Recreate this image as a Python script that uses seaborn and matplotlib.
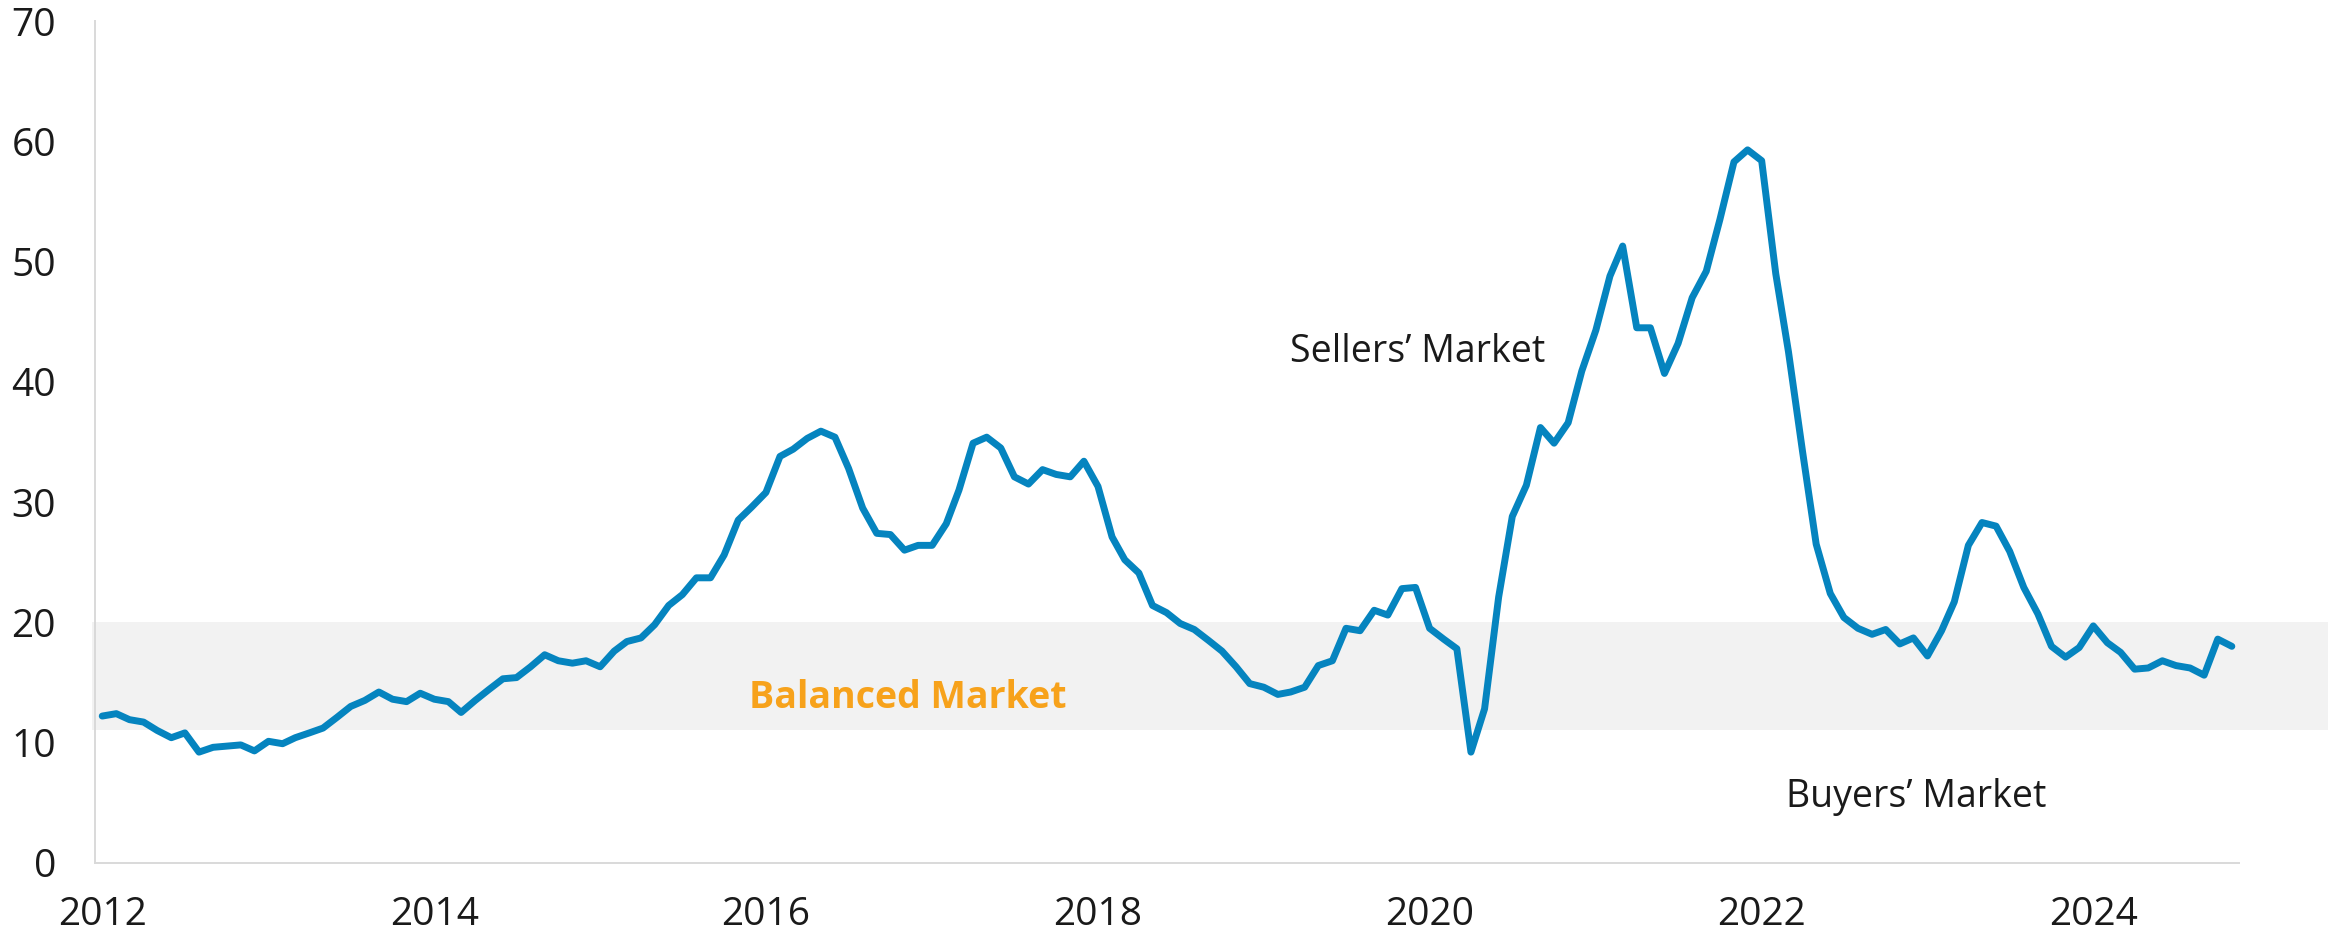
import numpy as np
import pandas as pd
import matplotlib
matplotlib.use("Agg")
import matplotlib.pyplot as plt
import matplotlib.transforms as mtransforms
from matplotlib.patches import Rectangle
import seaborn as sns

# monthly values, Jan 2012 - Nov 2024
values = [
    12.2, 12.4, 11.9, 11.7, 11.0, 10.4, 10.8, 9.2, 9.6, 9.7, 9.8, 9.3,
    10.1, 9.9, 10.4, 10.8, 11.2, 12.1, 13.0, 13.5, 14.2, 13.6, 13.4, 14.1,
    13.6, 13.4, 12.5, 13.5, 14.4, 15.3, 15.4, 16.3, 17.3, 16.8, 16.6, 16.8,
    16.3, 17.6, 18.4, 18.7, 19.8, 21.4, 22.3, 23.7, 23.7, 25.6, 28.5, 29.6,
    30.8, 33.8, 34.4, 35.3, 35.9, 35.4, 32.8, 29.5, 27.4, 27.3, 26.0, 26.4,
    26.4, 28.2, 31.0, 34.9, 35.4, 34.5, 32.1, 31.5, 32.7, 32.3, 32.1, 33.4,
    31.3, 27.1, 25.2, 24.1, 21.4, 20.8, 19.9, 19.4, 18.5, 17.6, 16.3, 14.9,
    14.6, 14.0, 14.2, 14.6, 16.4, 16.8, 19.5, 19.3, 21.0, 20.6, 22.8, 22.9,
    19.5, 18.6, 17.8, 9.2, 12.8, 22.1, 28.8, 31.4, 36.2, 34.9, 36.6, 40.9,
    44.3, 48.8, 51.3, 44.5, 44.5, 40.7, 43.2, 47.0, 49.2, 53.5, 58.3, 59.3,
    58.4, 49.0, 42.5, 34.2, 26.5, 22.4, 20.4, 19.5, 19.0, 19.4, 18.2, 18.7,
    17.2, 19.3, 21.7, 26.4, 28.3, 28.0, 25.9, 22.9, 20.7, 18.0, 17.1, 17.9,
    19.7, 18.3, 17.5, 16.1, 16.2, 16.8, 16.4, 16.2, 15.6, 18.6, 18.0,
]
dates = pd.date_range("2012-01-01", periods=len(values), freq="MS")

year_ticks = ["2012", "2014", "2016", "2018", "2020", "2022", "2024"]
y_ticks = [0, 10, 20, 30, 40, 50, 60, 70]
balanced_band = [11, 20]

labels = ["Sellers\u2019 Market", "Buyers\u2019 Market", "Balanced Market"]
label_dates = ["2019-02-27", "2022-02-24", "2015-11-24"]
label_y = [42.5, 5.5, 13.7]

df = pd.DataFrame({"date": dates, "value": values})

sns.set_style("white")
plt.rcParams["font.family"] = ["Open Sans", "DejaVu Sans"]

fig = plt.figure(figsize=(23.39, 9.36), dpi=100)
ax = fig.add_axes([0.0406, 0.0783, 0.9165, 0.899])

# balanced market band, runs a bit past the axes on both sides
trans = mtransforms.blended_transform_factory(fig.transFigure, ax.transData)
ax.add_patch(Rectangle((92 / 2339, balanced_band[0]), (2328 - 92) / 2339,
                       balanced_band[1] - balanced_band[0], transform=trans,
                       facecolor="#f2f2f2", edgecolor="none", clip_on=False, zorder=0))

sns.lineplot(data=df, x="date", y="value", ax=ax, color="#0584bf", linewidth=5,
             solid_joinstyle="round", solid_capstyle="round", zorder=3)

ax.set_xlim(pd.Timestamp("2011-12-16"), pd.Timestamp("2024-11-16"))
ax.set_ylim(0, 70)
ax.set_xticks(pd.to_datetime([y + "-01-01" for y in year_ticks]))
ax.set_xticklabels(year_ticks)
ax.set_yticks(y_ticks)
ax.set_xlabel("")
ax.set_ylabel("")

for s in ["top", "right"]:
    ax.spines[s].set_visible(False)
for s in ["left", "bottom"]:
    ax.spines[s].set_color("#d9d9d9")
    ax.spines[s].set_linewidth(1.4)

ax.tick_params(axis="y", length=10, width=1.4, color="#d9d9d9", pad=18,
               labelsize=28, labelcolor="#1a1a1a")
ax.tick_params(axis="x", length=0, pad=24, labelsize=28, labelcolor="#1a1a1a")

for txt, d, yv in zip(labels, label_dates, label_y):
    bold = txt.startswith("Balanced")
    ax.text(pd.Timestamp(d), yv, txt, ha="left", va="center",
            fontsize=27,
            fontweight="bold" if bold else "normal",
            color="#f7a21b" if bold else "#1a1a1a", zorder=4)

fig.savefig("out.png", dpi=100)
